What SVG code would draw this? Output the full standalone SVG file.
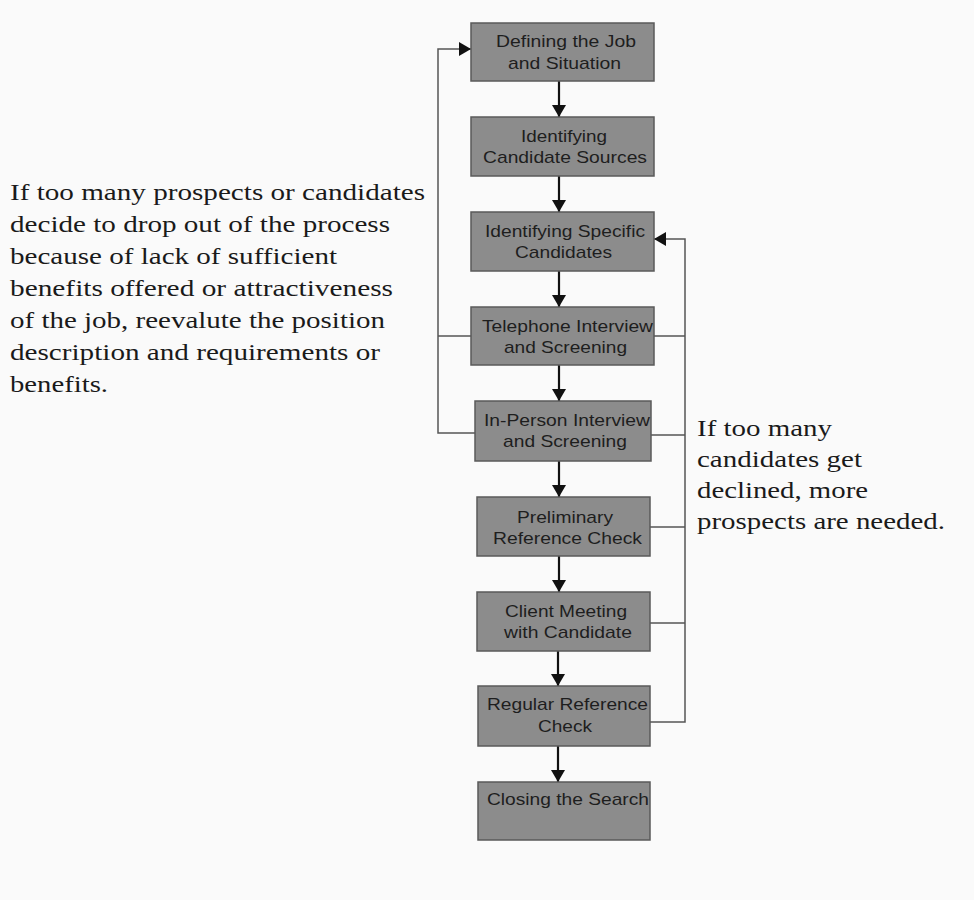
<svg xmlns="http://www.w3.org/2000/svg" width="974" height="900" viewBox="0 0 974 900">
<style>
.bg{fill:#fafafa}
.box{fill:#8c8c8c;stroke:#5a5a5a;stroke-width:1.5}
.bt{font-family:"Liberation Sans",Arial,sans-serif;font-size:17px;fill:#1e1e1e}
.note{font-family:"Liberation Serif","Times New Roman",serif;font-size:24px;fill:#1a1a1a}
.flow{stroke:#111;stroke-width:2.2;fill:none}
.fb{stroke:#555;stroke-width:1.5;fill:none}
</style>
<defs>
<marker id="ah" viewBox="0 0 12 14" refX="12" refY="7" markerWidth="12" markerHeight="14" markerUnits="userSpaceOnUse" orient="auto">
<path d="M0,0 L12,7 L0,14 Z" fill="#111"/>
</marker>
</defs>
<rect class="bg" x="0" y="0" width="974" height="900"/>

<g id="connectors">
<line class="flow" x1="559" y1="81" x2="559" y2="117" marker-end="url(#ah)"/>
<line class="flow" x1="559" y1="176" x2="559" y2="212" marker-end="url(#ah)"/>
<line class="flow" x1="559" y1="271" x2="559" y2="307" marker-end="url(#ah)"/>
<line class="flow" x1="559" y1="365" x2="559" y2="401" marker-end="url(#ah)"/>
<line class="flow" x1="559" y1="461" x2="559" y2="497" marker-end="url(#ah)"/>
<line class="flow" x1="559" y1="556" x2="559" y2="592" marker-end="url(#ah)"/>
<line class="flow" x1="558" y1="651" x2="558" y2="686" marker-end="url(#ah)"/>
<line class="flow" x1="558" y1="746" x2="558" y2="782" marker-end="url(#ah)"/>
<path class="fb" d="M471,336 H438"/>
<path class="fb" d="M475,433 H438 V49 H471" marker-end="url(#ah)"/>
<path class="fb" d="M654,336 H685"/>
<path class="fb" d="M651,435 H685"/>
<path class="fb" d="M650,527 H685"/>
<path class="fb" d="M650,623 H685"/>
<path class="fb" d="M650,722 H685 V239 H654" marker-end="url(#ah)"/>
</g>

<g id="n1"><rect class="box" x="471" y="23" width="183" height="58"/>
<text class="bt" x="496" y="47" textLength="140" lengthAdjust="spacingAndGlyphs">Defining the Job</text>
<text class="bt" x="508" y="69" textLength="113" lengthAdjust="spacingAndGlyphs">and Situation</text></g>
<g id="n2"><rect class="box" x="471" y="117" width="183" height="59"/>
<text class="bt" x="521" y="142" textLength="86" lengthAdjust="spacingAndGlyphs">Identifying</text>
<text class="bt" x="483" y="163" textLength="164" lengthAdjust="spacingAndGlyphs">Candidate Sources</text></g>
<g id="n3"><rect class="box" x="471" y="212" width="183" height="59"/>
<text class="bt" x="485" y="237" textLength="160" lengthAdjust="spacingAndGlyphs">Identifying Specific</text>
<text class="bt" x="515" y="258" textLength="97" lengthAdjust="spacingAndGlyphs">Candidates</text></g>
<g id="n4"><rect class="box" x="471" y="307" width="183" height="58"/>
<text class="bt" x="482" y="332" textLength="171" lengthAdjust="spacingAndGlyphs">Telephone Interview</text>
<text class="bt" x="504" y="353" textLength="123" lengthAdjust="spacingAndGlyphs">and Screening</text></g>
<g id="n5"><rect class="box" x="475" y="401" width="176" height="60"/>
<text class="bt" x="484" y="426" textLength="166" lengthAdjust="spacingAndGlyphs">In-Person Interview</text>
<text class="bt" x="503" y="447" textLength="124" lengthAdjust="spacingAndGlyphs">and Screening</text></g>
<g id="n6"><rect class="box" x="477" y="497" width="173" height="59"/>
<text class="bt" x="517" y="523" textLength="96" lengthAdjust="spacingAndGlyphs">Preliminary</text>
<text class="bt" x="493" y="544" textLength="149" lengthAdjust="spacingAndGlyphs">Reference Check</text></g>
<g id="n7"><rect class="box" x="477" y="592" width="173" height="59"/>
<text class="bt" x="505" y="617" textLength="122" lengthAdjust="spacingAndGlyphs">Client Meeting</text>
<text class="bt" x="504" y="638" textLength="128" lengthAdjust="spacingAndGlyphs">with Candidate</text></g>
<g id="n8"><rect class="box" x="478" y="686" width="172" height="60"/>
<text class="bt" x="487" y="710" textLength="161" lengthAdjust="spacingAndGlyphs">Regular Reference</text>
<text class="bt" x="538" y="732" textLength="54" lengthAdjust="spacingAndGlyphs">Check</text></g>
<g id="n9"><rect class="box" x="478" y="782" width="172" height="58"/>
<text class="bt" x="487" y="805" textLength="162" lengthAdjust="spacingAndGlyphs">Closing the Search</text></g>

<g id="note-left">
<text class="note" x="10" y="200" textLength="415" lengthAdjust="spacingAndGlyphs">If too many prospects or candidates</text>
<text class="note" x="10" y="232" textLength="380" lengthAdjust="spacingAndGlyphs">decide to drop out of the process</text>
<text class="note" x="10" y="264" textLength="327" lengthAdjust="spacingAndGlyphs">because of lack of sufficient</text>
<text class="note" x="10" y="296" textLength="383" lengthAdjust="spacingAndGlyphs">benefits offered or attractiveness</text>
<text class="note" x="10" y="328" textLength="375" lengthAdjust="spacingAndGlyphs">of the job, reevalute the position</text>
<text class="note" x="10" y="360" textLength="370" lengthAdjust="spacingAndGlyphs">description and requirements or</text>
<text class="note" x="10" y="392" textLength="98" lengthAdjust="spacingAndGlyphs">benefits.</text>
</g>
<g id="note-right">
<text class="note" x="697" y="436" textLength="135" lengthAdjust="spacingAndGlyphs">If too many</text>
<text class="note" x="697" y="467" textLength="165" lengthAdjust="spacingAndGlyphs">candidates get</text>
<text class="note" x="697" y="498" textLength="171" lengthAdjust="spacingAndGlyphs">declined, more</text>
<text class="note" x="697" y="529" textLength="248" lengthAdjust="spacingAndGlyphs">prospects are needed.</text>
</g>
</svg>
